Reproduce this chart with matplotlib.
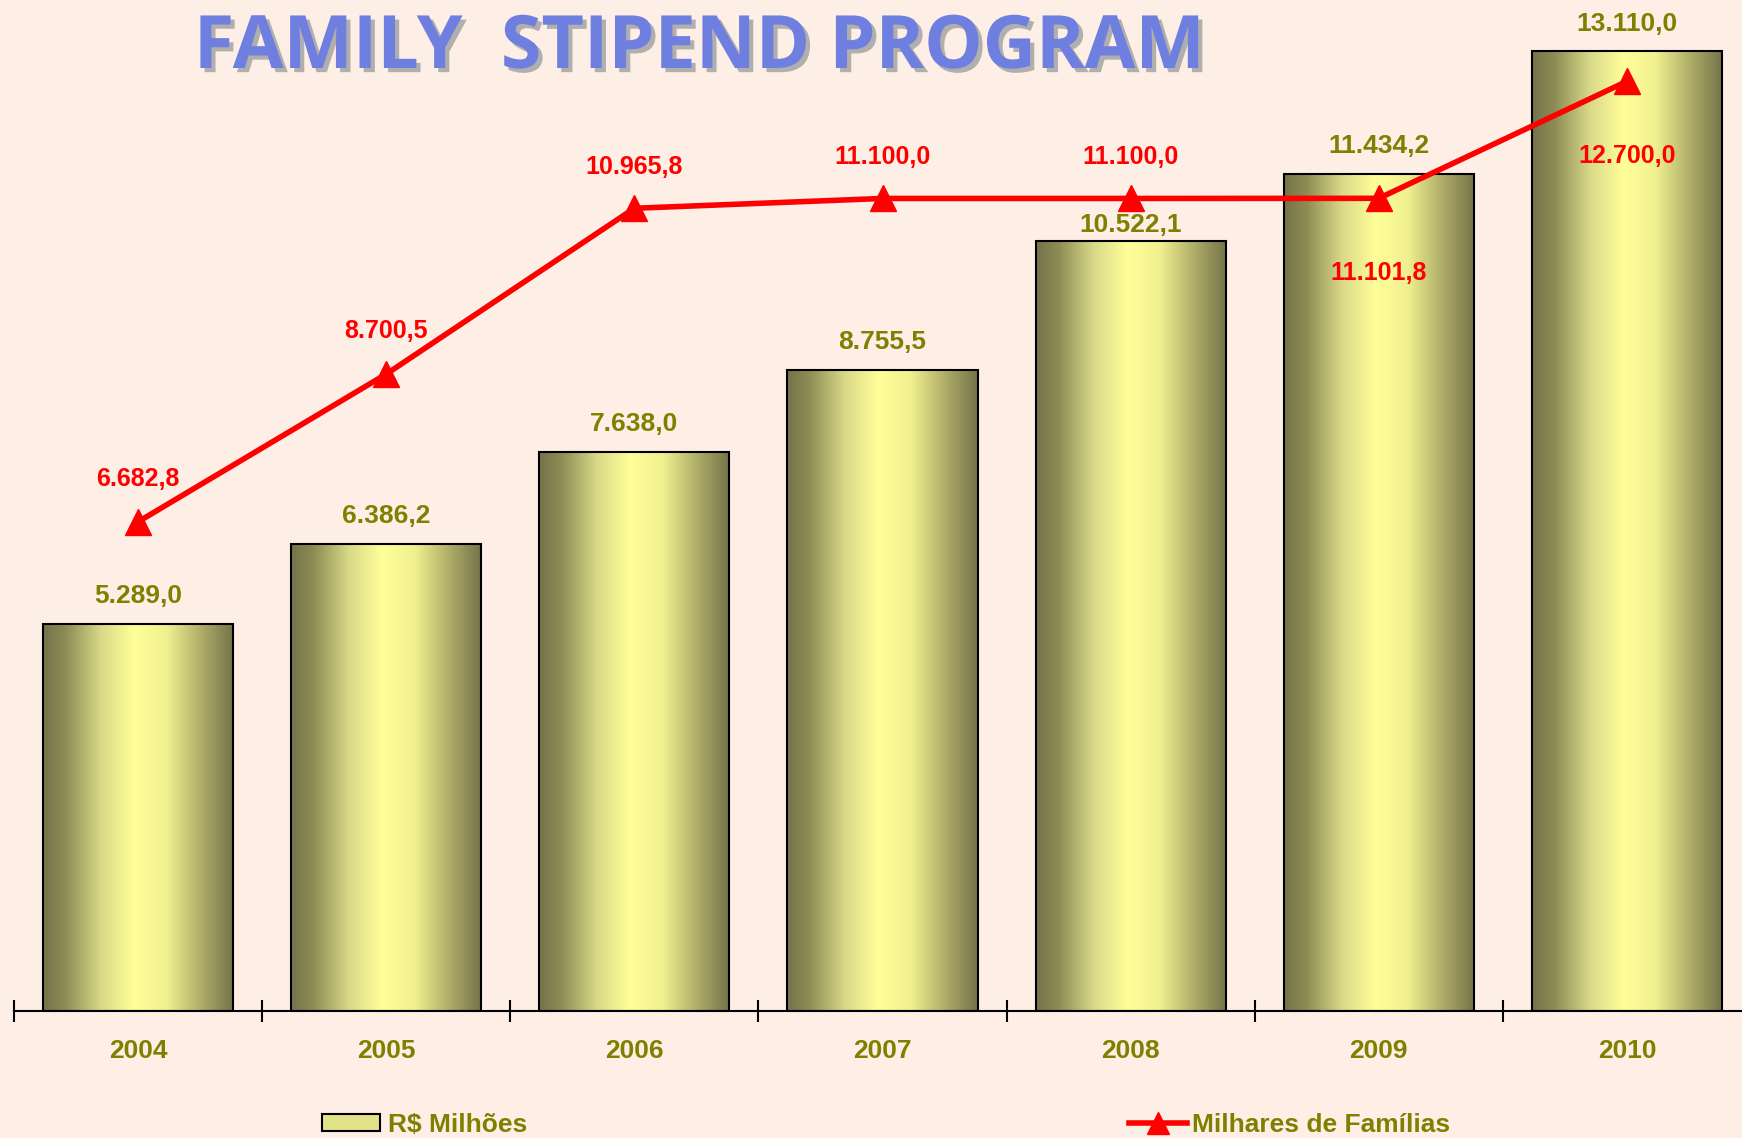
import numpy as np
import matplotlib
matplotlib.use('Agg')
import matplotlib.pyplot as plt
import matplotlib.patheffects as pe
from matplotlib.patches import Rectangle
from matplotlib.lines import Line2D

years = ['2004', '2005', '2006', '2007', '2008', '2009', '2010']
spending = [5289.0, 6386.2, 7638.0, 8755.5, 10522.1, 11434.2, 13110.0]
spending_labels = ['5.289,0', '6.386,2', '7.638,0', '8.755,5', '10.522,1', '11.434,2', '13.110,0']
families = [6682.8, 8700.5, 10965.8, 11100.0, 11100.0, 11101.8, 12700.0]
families_labels = ['6.682,8', '8.700,5', '10.965,8', '11.100,0', '11.100,0', '11.101,8', '12.700,0']

bg = '#FDEEE6'
olive = '#808000'
red = '#FF0000'

plt.rcParams['font.family'] = ['Liberation Sans', 'DejaVu Sans']

fig = plt.figure(figsize=(17.42, 11.38), dpi=100, facecolor=bg)
ax = fig.add_axes([14 / 1742, 127 / 1138, 1737 / 1742, 1011 / 1138])
ax.set_facecolor(bg)
ax.patch.set_alpha(0)

x = np.arange(len(years))
bars = ax.bar(x, spending, width=0.766, facecolor='none', edgecolor='black', linewidth=1.5, zorder=3)

# horizontal gradient for each bar
grad_pos = [0.0, 0.12, 0.3, 0.48, 0.65, 0.85, 1.0]
grad_col = ['#74734A', '#8E8D55', '#D8D888', '#FFFF99', '#F0F090', '#A8A664', '#74734A']
cmap = matplotlib.colors.LinearSegmentedColormap.from_list('g', list(zip(grad_pos, grad_col)))
grad = np.linspace(0, 1, 256).reshape(1, -1)
for b in bars:
    x0, y0 = b.get_x(), b.get_y()
    im = ax.imshow(grad, cmap=cmap, aspect='auto', zorder=2,
                   extent=(x0, x0 + b.get_width(), y0, y0 + b.get_height()))
    im.set_clip_path(b)

ax.plot(x, families, color=red, linewidth=4, marker='^', markersize=19, zorder=4)

ax.set_xlim(-0.5, 6.5)
ax.set_ylim(0, 13811)

for s in ['top', 'right', 'left']:
    ax.spines[s].set_visible(False)
ax.spines['bottom'].set_linewidth(1.5)
ax.set_yticks([])
ax.set_xticks(np.arange(-0.5, 7, 1))
ax.set_xticklabels([])
ax.set_xticks(x, minor=True)
ax.set_xticklabels(years, minor=True)
ax.tick_params(axis='x', which='major', direction='inout', length=16, width=1.5)
ax.tick_params(axis='x', which='minor', length=0, pad=20, labelsize=19, labelcolor=olive)
for t in ax.get_xticklabels(minor=True):
    t.set_fontweight('bold')

bar_offsets = [20, 20, 20, 20, 11, 20, 20]
for i in range(len(years)):
    ax.annotate(spending_labels[i], (x[i], spending[i]), xytext=(0, bar_offsets[i]),
                textcoords='offset points', ha='center', va='center',
                fontsize=19, fontweight='bold', color=olive, zorder=5)

fam_offsets = [31, 31, 30, 30, 30, -54, -54]
for i in range(len(years)):
    ax.annotate(families_labels[i], (x[i], families[i]), xytext=(0, fam_offsets[i]),
                textcoords='offset points', ha='center', va='center',
                fontsize=18, fontweight='bold', color=red, zorder=5)

fig.text(699 / 1742, 1 - 68 / 1138, 'FAMILY  STIPEND PROGRAM', ha='center', va='baseline',
         fontsize=53, fontweight='bold', family=['Open Sans', 'DejaVu Sans'], color='#6F7FE0',
         path_effects=[pe.withSimplePatchShadow(offset=(3, -3), shadow_rgbFace='#A8A8A8', alpha=0.9)])

# legends
h1 = Rectangle((0, 0), 1, 1, facecolor='#E2E288', edgecolor='black', linewidth=1.5)
h2 = Line2D([], [], color=red, linewidth=4, marker='^', markersize=16)
leg_font = {'family': ['Liberation Sans Narrow', 'Liberation Sans'], 'weight': 'bold', 'size': 19}
l1 = fig.legend([h1], ['R$ Milhões'], loc='center left', bbox_to_anchor=(322 / 1742, 1 - 1125 / 1138),
                frameon=False, prop=leg_font, handlelength=2.2, handleheight=0.6, handletextpad=0.3,
                borderaxespad=0, borderpad=0)
l2 = fig.legend([h2], ['Milhares de Famílias'], loc='center left', bbox_to_anchor=(1129 / 1742, 1 - 1125 / 1138),
                frameon=False, prop=leg_font, handlelength=2.2, handletextpad=0.2,
                borderaxespad=0, borderpad=0)
for l in (l1, l2):
    for t in l.get_texts():
        t.set_color(olive)

fig.savefig('out.png', dpi=100, facecolor=bg)
